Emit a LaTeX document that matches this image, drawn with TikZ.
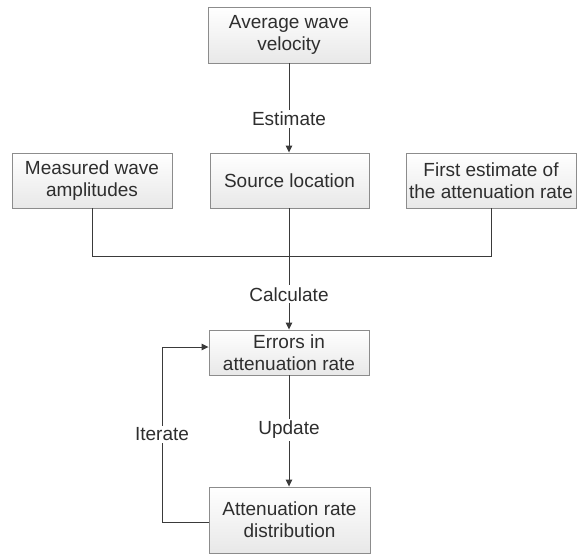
\documentclass[tikz,border=0pt]{standalone}
\usepackage{fontspec}
\setmainfont{Liberation Sans}
\usetikzlibrary{arrows.meta}
\definecolor{boxline}{HTML}{8C8C8C}
\definecolor{conn}{HTML}{3A3A3A}
\definecolor{txt}{HTML}{2E2E2E}
\begin{document}
\begin{tikzpicture}[x=1pt,y=-1pt,
  box/.style={draw=boxline, line width=0.9pt, top color=white, bottom color=black!9,
    align=center, inner sep=0pt, text=txt, font=\fontsize{19}{22}\selectfont},
  conline/.style={draw=conn, line width=1pt},
  arr/.style={conline, -{Triangle[length=7pt,width=6.5pt]}},
  lab/.style={fill=white, text=txt, inner sep=2pt, font=\fontsize{19}{22}\selectfont}]
\useasboundingbox (0,0) rectangle (577,554);
\node[box, minimum width=162pt, minimum height=56pt] (avg) at (289,35) {Average wave\\velocity};
\node[box, minimum width=159pt, minimum height=55pt] (src) at (289.5,180.5) {Source location};
\node[box, minimum width=160pt, minimum height=55pt] (meas) at (92,180.5) {Measured wave\\amplitudes};
\node[box, minimum width=170pt, minimum height=55pt] (first) at (491,180.5) {First estimate of\\the attenuation rate};
\node[box, minimum width=160pt, minimum height=45pt] (err) at (289,352.5) {Errors in\\attenuation rate};
\node[box, minimum width=161pt, minimum height=66pt] (att) at (289.5,520) {Attenuation rate\\distribution};
\coordinate (jl) at (92,256);
\coordinate (jr) at (491,256);
\coordinate (lb) at (162,522);
\coordinate (lt) at (162,347);
\draw[arr] (avg.south -| 289,0) -- (src.north -| 289,0) node[lab, pos=0.62] (est) {Estimate};
\draw[conline] (meas.south) -- (jl) -- (jr) -- (first.south);
\draw[arr] (src.south -| 289,0) -- (err.north -| 289,0) node[lab, pos=0.71] (calc) {Calculate};
\draw[arr] (err.south -| 289,0) -- (att.north -| 289,0) node[lab, pos=0.49] (upd) {Update};
\draw[arr] (att.west |- lb) -- (lb) -- (lt) node[lab, pos=0.5] (iter) {Iterate} -- (err.west |- lt);
\end{tikzpicture}
\end{document}
